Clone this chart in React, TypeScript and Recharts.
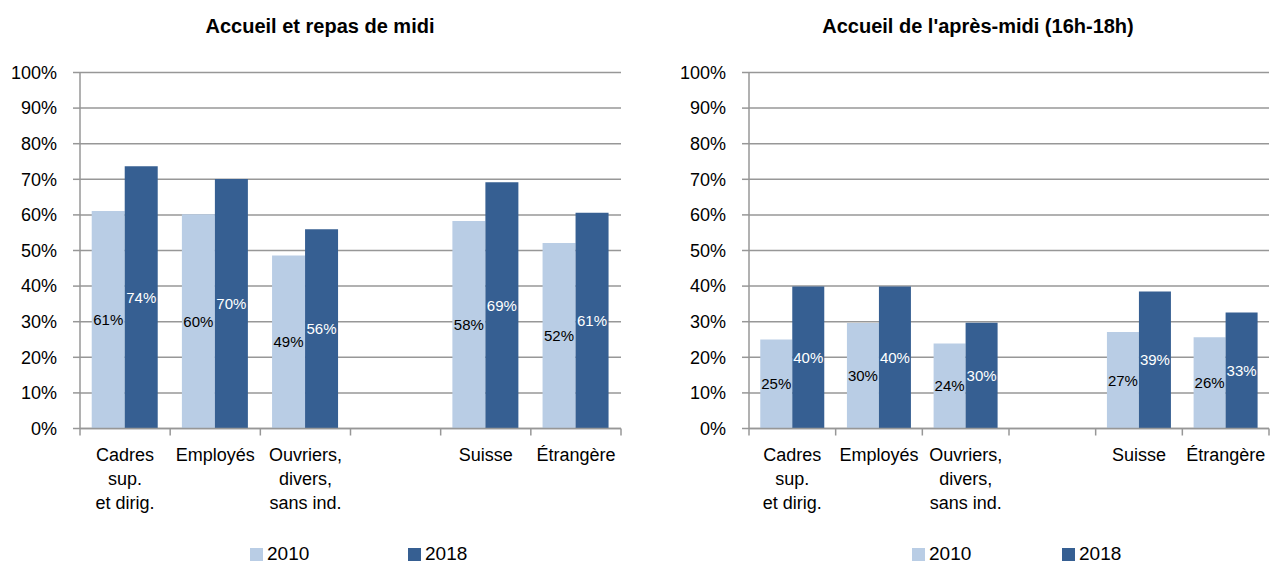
import React from "react";
import { BarChart, Bar, XAxis, YAxis, CartesianGrid, LabelList, Legend } from "recharts";

const categories = ["Cadres\nsup.\net dirig.", "Employés", "Ouvriers,\ndivers,\nsans ind.", "", "Suisse", "Étrangère"];
const midi2010 = [61.1, 60.2, 48.6, null, 58.3, 52.1];
const midi2018 = [73.7, 70.1, 56.0, null, 69.2, 60.6];
const apm2010 = [25.0, 29.6, 23.9, null, 27.1, 25.6];
const apm2018 = [39.9, 39.9, 29.7, null, 38.5, 32.6];
const yTicks = [0, 10, 20, 30, 40, 50, 60, 70, 80, 90, 100];
const seriesNames = ["2010", "2018"];
const titles = ["Accueil et repas de midi", "Accueil de l'après-midi (16h-18h)"];

const LIGHT = "#B9CDE5";
const DARK = "#365F92";
const GRID = "#979797";
const FONT = "'Liberation Sans', Arial, sans-serif";

const W = 636;
const H = 563;

function buildData(a: (number | null)[], b: (number | null)[]) {
  return categories.map((c, i) => ({ cat: c, s2010: a[i], s2018: b[i] }));
}

function makeTick(band: number, count: number) {
  return (props: any) => {
    const { x, y, payload, index } = props;
    const lines = String(payload.value).split("\n");
    return (
      <g>
        <line x1={x - band / 2} x2={x - band / 2} y1={y} y2={y + 7} stroke={GRID} strokeWidth={1.5} />
        {index === count - 1 && (
          <line x1={x + band / 2} x2={x + band / 2} y1={y} y2={y + 7} stroke={GRID} strokeWidth={1.5} />
        )}
        {lines.map((l, i) => (
          <text key={i} x={x} y={y + 32 + i * 24} textAnchor="middle" fontSize={18} fill="#000" fontFamily={FONT}>
            {l}
          </text>
        ))}
      </g>
    );
  };
}

function makeLegend(pos: number[]) {
  return () => (
    <div style={{ position: "relative", height: 24, width: "100%" }}>
      {seriesNames.map((n, i) => (
        <div key={n} style={{ position: "absolute", left: pos[i], top: 3, height: 24, display: "flex", alignItems: "center" }}>
          <div style={{ width: 13, height: 13, background: i === 0 ? LIGHT : DARK, marginRight: 4 }} />
          <span style={{ fontSize: 19, fontFamily: FONT, color: "#000" }}>{n}</span>
        </div>
      ))}
    </div>
  );
}

const fmt = (v: any) => (v == null || isNaN(Number(v)) ? "" : `${Math.round(Number(v))}%`);

function Panel(props: { data: any[]; left: number; right: number; legendPos: number[] }) {
  const { data, left, right, legendPos } = props;
  const plotW = W - left - 70 - right;
  const band = plotW / categories.length;
  return (
    <BarChart
      width={W}
      height={H}
      data={data}
      margin={{ top: 72.5, right, left, bottom: 0 }}
      barCategoryGap="13%"
      barGap={0}
    >
      <CartesianGrid vertical={false} stroke={GRID} strokeWidth={1.5} />
      <XAxis
        dataKey="cat"
        interval={0}
        height={110.5}
        tickLine={false}
        tickSize={0}
        tickMargin={0}
        axisLine={{ stroke: GRID, strokeWidth: 1.5 }}
        tick={makeTick(band, categories.length)}
      />
      <YAxis
        width={70}
        domain={[0, 100]}
        ticks={yTicks}
        interval={0}
        tickFormatter={(v: number) => `${v}%`}
        tick={{ fontSize: 18, fill: "#000", fontFamily: FONT }}
        tickSize={7}
        tickMargin={16}
        tickLine={{ stroke: GRID, strokeWidth: 1.5 }}
        axisLine={{ stroke: GRID, strokeWidth: 1.5 }}
      />
      <Legend verticalAlign="bottom" height={24} content={makeLegend(legendPos)} />
      <Bar dataKey="s2010" name={seriesNames[0]} fill={LIGHT} isAnimationActive={false}>
        <LabelList dataKey="s2010" position="center" formatter={fmt} fill="#000" fontSize={15} fontFamily={FONT} />
      </Bar>
      <Bar dataKey="s2018" name={seriesNames[1]} fill={DARK} isAnimationActive={false}>
        <LabelList dataKey="s2018" position="center" formatter={fmt} fill="#fff" fontSize={15} fontFamily={FONT} />
      </Bar>
    </BarChart>
  );
}

const titleStyle = (center: number): React.CSSProperties => ({
  position: "absolute",
  top: 15,
  left: center - 250,
  width: 500,
  textAlign: "center",
  fontFamily: FONT,
  fontWeight: "bold",
  fontSize: 20,
  color: "#000",
});

export default function App() {
  return (
    <div style={{ position: "absolute", left: 0, top: 0, width: 1272, height: 563, background: "#fff", overflow: "hidden" }}>
      <div style={{ position: "absolute", left: 0, top: 0 }}>
        <Panel data={buildData(midi2010, midi2018)} left={10} right={15} legendPos={[240, 398]} />
      </div>
      <div style={{ position: "absolute", left: 636, top: 0 }}>
        <Panel data={buildData(apm2010, apm2018)} left={43} right={3} legendPos={[233, 383]} />
      </div>
      <div style={titleStyle(320)}>{titles[0]}</div>
      <div style={titleStyle(978)}>{titles[1]}</div>
    </div>
  );
}
